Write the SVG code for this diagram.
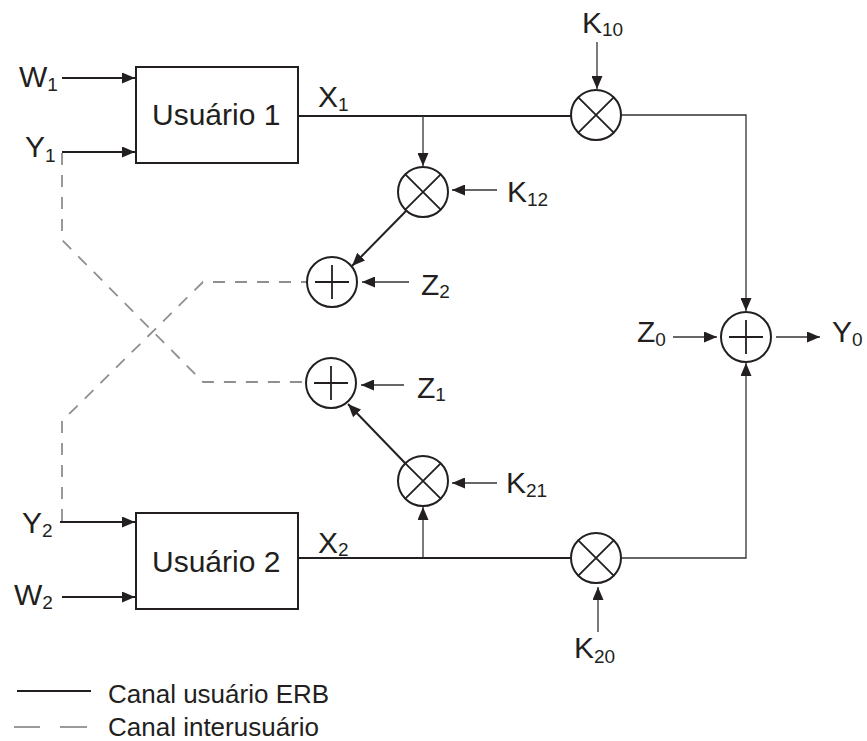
<svg xmlns="http://www.w3.org/2000/svg" width="867" height="741" viewBox="0 0 867 741">
<style>
text{font-family:"Liberation Sans",Arial,sans-serif;fill:#231f20}
.lbl{font-size:30px}
.sub{font-size:19px}
.leg{font-size:26px}
.box{fill:#fff;stroke:#231f20;stroke-width:2}
.op{fill:#fff;stroke:#231f20;stroke-width:2}
.sym{stroke:#231f20;stroke-width:1.8;fill:none}
.main{stroke:#231f20;stroke-width:2;fill:none}
.thin{stroke:#333;stroke-width:1.3;fill:none}
.dash{stroke:#8f8f8f;stroke-width:1.8;fill:none;stroke-dasharray:12 10}
</style>
<defs>
<marker id="ah" viewBox="0 0 13 11" refX="13" refY="5.5" markerWidth="13" markerHeight="11" orient="auto" markerUnits="userSpaceOnUse">
<path d="M0,0 L13,5.5 L0,11 z" fill="#231f20"/>
</marker>
</defs>

<g id="connectors">
<line class="main" x1="62" y1="78" x2="135" y2="78" marker-end="url(#ah)"/>
<line class="main" x1="62" y1="152" x2="135" y2="152" marker-end="url(#ah)"/>
<line class="main" x1="298" y1="116" x2="571" y2="116"/>
<line class="thin" x1="423" y1="116" x2="423" y2="166" marker-end="url(#ah)"/>
<line class="thin" x1="597" y1="42" x2="597" y2="89" marker-end="url(#ah)"/>
<polyline class="thin" points="621,115 746,115 746,311" marker-end="url(#ah)"/>
<line class="thin" x1="497" y1="190" x2="452" y2="190" marker-end="url(#ah)"/>
<line class="main" x1="407" y1="210" x2="352" y2="266" marker-end="url(#ah)"/>
<line class="thin" x1="409" y1="282" x2="362" y2="282" marker-end="url(#ah)"/>
<line class="thin" x1="404" y1="385" x2="361" y2="385" marker-end="url(#ah)"/>
<line class="main" x1="405" y1="463" x2="348" y2="404" marker-end="url(#ah)"/>
<line class="thin" x1="497" y1="483" x2="452" y2="483" marker-end="url(#ah)"/>
<line class="thin" x1="423" y1="558" x2="423" y2="507" marker-end="url(#ah)"/>
<line class="main" x1="298" y1="558" x2="571" y2="558"/>
<line class="thin" x1="598" y1="632" x2="598" y2="587" marker-end="url(#ah)"/>
<polyline class="thin" points="621,558 746,558 746,363" marker-end="url(#ah)"/>
<line class="thin" x1="673" y1="337" x2="717" y2="337" marker-end="url(#ah)"/>
<line class="thin" x1="776" y1="337" x2="820" y2="337" marker-end="url(#ah)"/>
<line class="main" x1="60" y1="522" x2="135" y2="522" marker-end="url(#ah)"/>
<line class="main" x1="62" y1="597" x2="135" y2="597" marker-end="url(#ah)"/>
<polyline class="dash" points="62,153 62,240 203,382 306,382"/>
<polyline class="dash" points="62,521 62,421 203,282 307,282"/>
</g>

<g id="user1">
<rect class="box" x="136" y="67" width="162" height="96"/>
<text class="lbl" x="152" y="125">Usuário 1</text>
</g>
<g id="user2">
<rect class="box" x="136" y="513" width="162" height="96"/>
<text class="lbl" x="152" y="572">Usuário 2</text>
</g>

<g id="mult10">
<circle class="op" cx="596" cy="115" r="25"/>
<path class="sym" d="M578.3,97.3 L613.7,132.7 M613.7,97.3 L578.3,132.7"/>
</g>
<g id="mult12">
<circle class="op" cx="423" cy="192" r="25"/>
<path class="sym" d="M405.3,174.3 L440.7,209.7 M440.7,174.3 L405.3,209.7"/>
</g>
<g id="mult21">
<circle class="op" cx="423" cy="481" r="25"/>
<path class="sym" d="M405.3,463.3 L440.7,498.7 M440.7,463.3 L405.3,498.7"/>
</g>
<g id="mult20">
<circle class="op" cx="596" cy="558" r="25"/>
<path class="sym" d="M578.3,540.3 L613.7,575.7 M613.7,540.3 L578.3,575.7"/>
</g>
<g id="add2">
<circle class="op" cx="332" cy="282" r="25"/>
<path class="sym" d="M315,282 H349 M332,265 V299"/>
</g>
<g id="add1">
<circle class="op" cx="331" cy="383" r="25"/>
<path class="sym" d="M314,383 H348 M331,366 V400"/>
</g>
<g id="add0">
<circle class="op" cx="746" cy="337" r="25"/>
<path class="sym" d="M729,337 H763 M746,320 V354"/>
</g>

<g id="labels">
<text class="lbl" x="19" y="87">W<tspan class="sub" dy="4">1</tspan></text>
<text class="lbl" x="25" y="157">Y<tspan class="sub" dy="5">1</tspan></text>
<text class="lbl" x="318" y="107">X<tspan class="sub" dy="4">1</tspan></text>
<text class="lbl" x="582" y="33">K<tspan class="sub" dy="3">10</tspan></text>
<text class="lbl" x="507" y="202">K<tspan class="sub" dy="4">12</tspan></text>
<text class="lbl" x="421" y="295">Z<tspan class="sub" dy="3">2</tspan></text>
<text class="lbl" x="417" y="398">Z<tspan class="sub" dy="3">1</tspan></text>
<text class="lbl" x="506" y="493">K<tspan class="sub" dy="4">21</tspan></text>
<text class="lbl" x="637" y="342">Z<tspan class="sub" dy="4">0</tspan></text>
<text class="lbl" x="832" y="342">Y<tspan class="sub" dy="4">0</tspan></text>
<text class="lbl" x="22" y="533">Y<tspan class="sub" dy="4">2</tspan></text>
<text class="lbl" x="14" y="605">W<tspan class="sub" dy="4">2</tspan></text>
<text class="lbl" x="318" y="553">X<tspan class="sub" dy="3">2</tspan></text>
<text class="lbl" x="574" y="658">K<tspan class="sub" dy="5">20</tspan></text>
</g>

<g id="legend">
<line class="main" x1="17" y1="691" x2="91" y2="691"/>
<text class="leg" x="108" y="703">Canal usuário ERB</text>
<line stroke="#8f8f8f" stroke-width="1.8" x1="14" y1="727" x2="40" y2="727"/>
<line stroke="#8f8f8f" stroke-width="1.8" x1="60" y1="727" x2="87" y2="727"/>
<text class="leg" x="108" y="736">Canal interusuário</text>
</g>
</svg>
